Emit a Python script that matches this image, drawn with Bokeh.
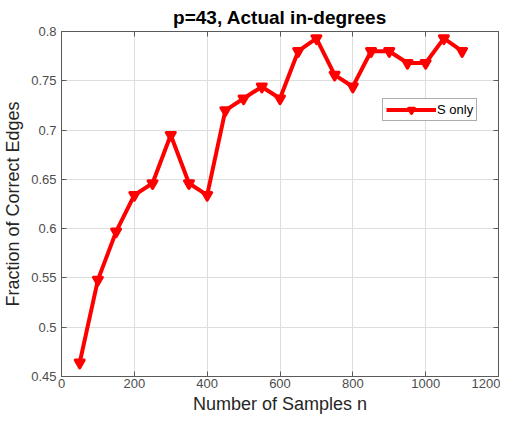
from bokeh.plotting import figure
from bokeh.models import LinearAxis, FixedTicker, Legend, LegendItem, Range1d
from bokeh.embed import file_html
from bokeh.resources import INLINE

# Data
n_samples = [50, 100, 150, 200, 250, 300, 350, 400, 450, 500, 550,
             600, 650, 700, 750, 800, 850, 900, 950, 1000, 1050, 1100]
fraction_correct = [0.464, 0.548, 0.597, 0.634, 0.646, 0.695, 0.646, 0.634,
                    0.720, 0.732, 0.744, 0.732, 0.780, 0.793, 0.756, 0.744,
                    0.780, 0.780, 0.768, 0.768, 0.793, 0.780]
x_ticks = [0, 200, 400, 600, 800, 1000, 1200]
y_ticks = [0.45, 0.5, 0.55, 0.6, 0.65, 0.7, 0.75, 0.8]
y_tick_labels = ["0.45", "0.5", "0.55", "0.6", "0.65", "0.7", "0.75", "0.8"]
series_name = "S only"

FONT = "Liberation Sans"
TICK_COLOR = "#4d4d4d"
LABEL_COLOR = "#262626"
AXIS_COLOR = "#5a5a5a"

p = figure(output_backend="svg", toolbar_location=None,
           x_range=Range1d(0, 1200), y_range=Range1d(0.45, 0.8),
           frame_width=437, frame_height=345,
           min_border_left=10, min_border_right=2, min_border_top=2, min_border_bottom=4,
           title="p=43, Actual in-degrees")
p.title.align = "center"
p.title.text_font = FONT
p.title.text_font_size = "19px"
p.title.text_font_style = "bold"
p.title.text_color = "#000000"
p.title.offset = 0
p.title.standoff = 8

p.outline_line_color = AXIS_COLOR
p.outline_line_width = 1
p.background_fill_color = "white"
p.border_fill_color = "white"

p.xaxis.ticker = FixedTicker(ticks=x_ticks)
p.yaxis.ticker = FixedTicker(ticks=y_ticks)
p.yaxis.major_label_overrides = {t: l for t, l in zip(y_ticks, y_tick_labels)}
p.xaxis.axis_label = "Number of Samples n"
p.yaxis.axis_label = "Fraction of Correct Edges"

for ax in (p.xaxis[0], p.yaxis[0]):
    ax.major_tick_in = 5
    ax.major_tick_out = 0
    ax.minor_tick_in = 0
    ax.minor_tick_out = 0
    ax.axis_line_color = AXIS_COLOR
    ax.major_tick_line_color = AXIS_COLOR
    ax.major_label_text_font = FONT
    ax.major_label_text_font_size = "13px"
    ax.major_label_text_color = TICK_COLOR
    ax.axis_label_text_font = FONT
    ax.axis_label_text_font_size = "18px"
    ax.axis_label_text_font_style = "normal"
    ax.axis_label_text_color = LABEL_COLOR
p.xaxis.major_label_standoff = 2
p.yaxis.major_label_standoff = 5
p.xaxis.axis_label_standoff = 3
p.yaxis.axis_label_standoff = 5

# top and right axes: ticks only
top = LinearAxis(ticker=FixedTicker(ticks=x_ticks), major_tick_in=5, major_tick_out=0,
                 minor_tick_in=0, minor_tick_out=0, major_label_text_font_size="1px",
                 major_label_text_color=None, major_label_standoff=0,
                 axis_line_color=AXIS_COLOR, major_tick_line_color=AXIS_COLOR)
right = LinearAxis(ticker=FixedTicker(ticks=y_ticks), major_tick_in=5, major_tick_out=0,
                   minor_tick_in=0, minor_tick_out=0, major_label_text_font_size="1px",
                   major_label_text_color=None, major_label_standoff=0,
                   axis_line_color=AXIS_COLOR, major_tick_line_color=AXIS_COLOR)
p.add_layout(top, "above")
p.add_layout(right, "right")

p.xgrid.grid_line_color = "#dedede"
p.ygrid.grid_line_color = "#dedede"
p.xgrid.grid_line_width = 1
p.ygrid.grid_line_width = 1

ln = p.line(n_samples, fraction_correct, line_color="#ff0000", line_width=4)
mk = p.scatter(n_samples, fraction_correct, marker="inverted_triangle", size=9,
               fill_color="#ff0000", line_color="#ff0000", line_width=3,
               line_join="round")

legend = Legend(items=[LegendItem(label=series_name, renderers=[ln, mk])],
                location=(321, 255), glyph_width=50, glyph_height=15,
                label_text_font=FONT, label_text_font_size="13px",
                label_text_color="#000000", label_standoff=1,
                padding=3, margin=0, spacing=0,
                border_line_color=AXIS_COLOR, border_line_width=1,
                label_height=15)
p.add_layout(legend, "center")

open("out.html", "w").write(file_html(p, INLINE))
